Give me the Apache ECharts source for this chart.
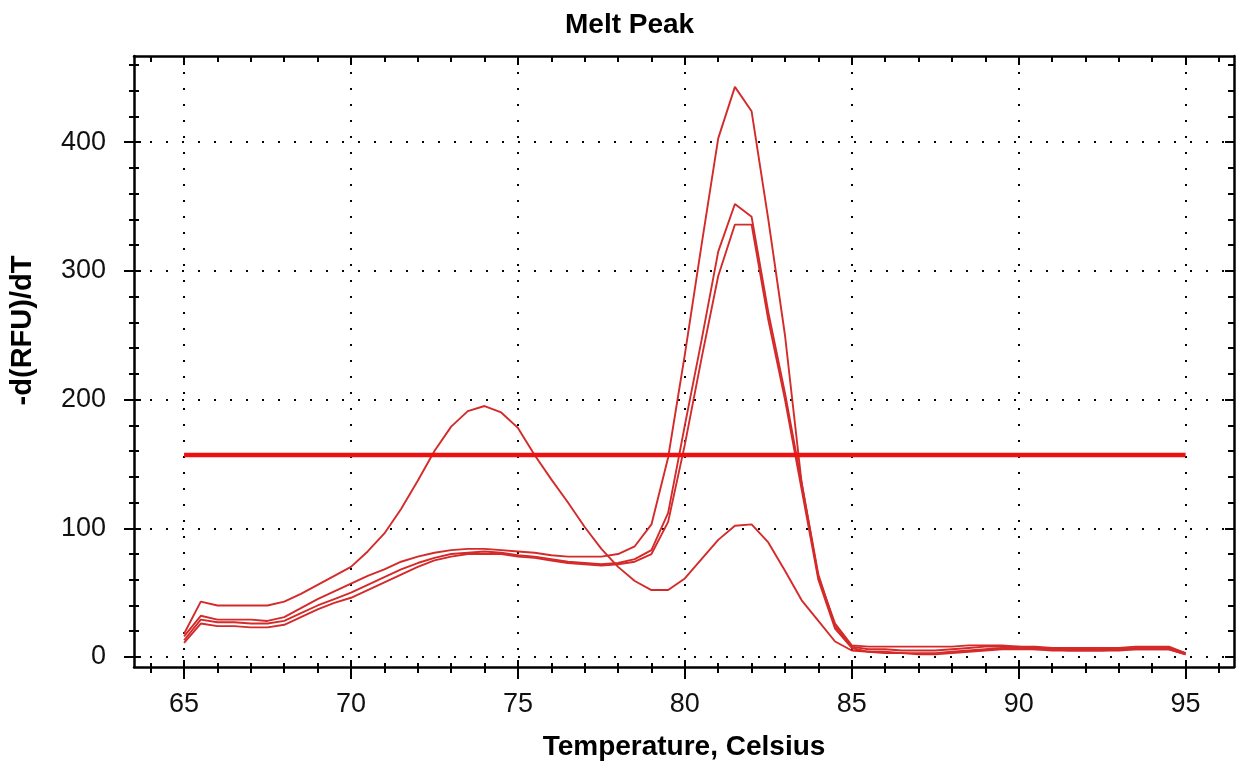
<!DOCTYPE html>
<html><head><meta charset="utf-8">
<script src="https://cdn.jsdelivr.net/npm/echarts@6/dist/echarts.min.js"></script>
<style>html,body{margin:0;padding:0;background:#fff}#c{width:1239px;height:772px}</style>
</head><body><div id="c"></div>
<script>
// ---- data ----
const TEMPS = [65,65.5,66,66.5,67,67.5,68,68.5,69,69.5,70,70.5,71,71.5,72,72.5,73,73.5,74,74.5,75,75.5,76,76.5,77,77.5,78,78.5,79,79.5,80,80.5,81,81.5,82,82.5,83,83.5,84,84.5,85,85.5,86,86.5,87,87.5,88,88.5,89,89.5,90,90.5,91,91.5,92,92.5,93,93.5,94,94.5,95];
const CURVE_A = [18,43,40,40,40,40,43,49,56,63,70,82,96,115,137,160,179,191,195,190,178,157,138,120,101,84,70,59,52,52,61,76,91,102,103,89,67,44,28,12,5,4,3,3,2,2,3,4,5,6,6,6,5,5,5,5,5,6,6,6,2];
const CURVE_B = [16,32,29,29,29,28,31,38,45,51,57,63,68,74,78,81,83,84,84,83,82,81,79,78,78,78,80,86,103,155,235,320,403,443,424,340,250,135,62,26,9,8,8,8,8,8,8,9,9,9,8,8,7,7,7,7,7,8,8,8,3];
const CURVE_C = [13,29,27,27,26,26,28,34,40,45,50,56,62,68,73,77,80,81,82,81,79,78,76,74,73,72,73,76,83,112,180,246,315,352,342,268,205,135,64,24,8,6,6,5,5,5,6,7,8,8,8,7,7,6,6,6,6,7,7,7,3];
const CURVE_D = [11,26,24,24,23,23,25,31,37,42,46,52,58,64,70,75,78,80,80,80,78,77,75,73,72,71,72,74,80,105,165,232,296,336,336,262,200,130,60,22,7,4,4,3,3,3,4,5,6,7,7,6,6,5,5,5,6,6,6,6,2];
const THRESHOLD = 157;
const X_TICKS = [65,70,75,80,85,90,95];
const Y_TICKS = [0,100,200,300,400];
const X_RANGE = [63.5, 96.45];
const Y_RANGE = [-7.8, 467];
const X_MINOR = []; for (let v = 64; v <= 96; v++) X_MINOR.push(v);
const Y_MINOR = []; for (let v = 0; v <= 460; v += 20) Y_MINOR.push(v);

const FONT = '"Liberation Sans", Arial, sans-serif';
const tickStyle = {color:'#000', width:2};
const frameLine = {show:true, onZero:false, lineStyle:{color:'#000', width:2.5}};
const noLine = {show:false, onZero:false};

function ax(kind, position, extra) {
  const r = kind === 'x' ? X_RANGE : Y_RANGE;
  return Object.assign({
    type:'value', min:r[0], max:r[1], position:position,
    axisLine:noLine, axisTick:{show:false}, axisLabel:{show:false}, splitLine:{show:false}
  }, extra);
}
function ticks(vals, len, inside) {
  return {show:true, inside:inside, length:len, customValues:vals, lineStyle:tickStyle};
}
const gridDots = {show:true, lineStyle:{color:'#000', width:2, type:[2,14]}};

const xAxes = [
  ax('x','bottom',{
    axisLine:frameLine, axisTick:ticks(X_TICKS,12,false),
    axisLabel:{show:true, customValues:X_TICKS, margin:24, fontSize:27, color:'#111', fontFamily:FONT},
    splitLine:gridDots,
    name:'Temperature, Celsius', nameLocation:'middle', nameGap:66,
    nameTextStyle:{fontSize:28, fontWeight:'bold', color:'#000', fontFamily:FONT}
  }),
  ax('x','bottom',{axisTick:ticks(X_MINOR,6,false)}),
  ax('x','bottom',{axisTick:ticks(X_TICKS,7,true)}),
  ax('x','bottom',{axisTick:ticks(X_MINOR,4,true)}),
  ax('x','top',{axisLine:frameLine, axisTick:ticks(X_TICKS,9,true)}),
  ax('x','top',{axisTick:ticks(X_MINOR,6,true)})
];
const yAxes = [
  ax('y','left',{
    axisLine:frameLine, axisTick:ticks(Y_TICKS,10,false),
    axisLabel:{show:true, customValues:Y_TICKS, margin:28, fontSize:27, color:'#111', fontFamily:FONT},
    splitLine:gridDots,
    name:'-d(RFU)/dT', nameLocation:'middle', nameGap:97,
    nameTextStyle:{fontSize:29, fontWeight:'bold', color:'#000', fontFamily:FONT, padding:[0,0,0,62]}
  }),
  ax('y','left',{axisTick:ticks(Y_MINOR,5,false)}),
  ax('y','left',{axisTick:ticks(Y_TICKS,7,true)}),
  ax('y','left',{axisTick:ticks(Y_MINOR,5,true)}),
  ax('y','right',{axisLine:frameLine, axisTick:ticks(Y_TICKS,9,true)}),
  ax('y','right',{axisTick:ticks(Y_MINOR,6,true)})
];

function curve(vals) {
  return {
    type:'line', xAxisIndex:0, yAxisIndex:0, showSymbol:false, symbol:'none',
    lineStyle:{color:'#d42a2a', width:1.9}, z:3,
    data: TEMPS.map((t,i) => [t, vals[i]])
  };
}

const chart = echarts.init(document.getElementById('c'), null, {renderer:'canvas'});
chart.setOption({
  animation:false,
  backgroundColor:'#fff',
  title:{text:'Melt Peak', left:560, top:6, textStyle:{fontSize:28, fontWeight:'bold', color:'#000', fontFamily:FONT}},
  grid:{left:133, right:5, top:56, bottom:105},
  xAxis:xAxes,
  yAxis:yAxes,
  series:[
    curve(CURVE_A), curve(CURVE_B), curve(CURVE_C), curve(CURVE_D),
    {type:'line', xAxisIndex:0, yAxisIndex:0, showSymbol:false, symbol:'none', z:4,
     lineStyle:{color:'#ee1111', width:4.5},
     data:[[X_TICKS[0], THRESHOLD],[X_TICKS[X_TICKS.length-1], THRESHOLD]]}
  ]
});
</script></body></html>
